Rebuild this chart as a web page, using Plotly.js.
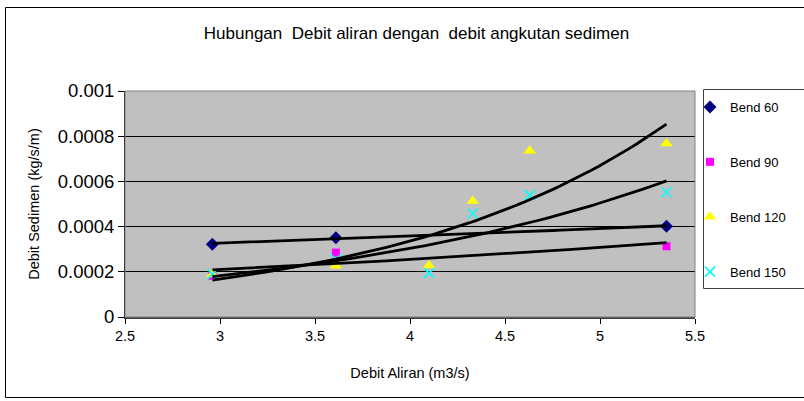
<!DOCTYPE html>
<html>
<head>
<meta charset="utf-8">
<script src="https://cdn.plot.ly/plotly-3.0.1.min.js"></script>
<style>
  html, body { margin: 0; padding: 0; background: #fff; }
  #chart { width: 804px; height: 401px; }
</style>
</head>
<body>
<div id="chart"></div>
<script>
// Measured sediment discharge (kg/s/m) against flow discharge (m3/s) for each bend
const seriesNames = ['Bend 60', 'Bend 90', 'Bend 120', 'Bend 150'];

const bend60X = [2.96, 3.61, 5.35];
const bend60Y = [0.000322, 0.000351, 0.000402];

const bend90X = [2.96, 3.61, 5.35];
const bend90Y = [0.000182, 0.000285, 0.000313];

const bend120X = [2.96, 3.61, 4.10, 4.33, 4.63, 5.35];
const bend120Y = [0.000188, 0.000227, 0.000228, 0.000513, 0.000736, 0.000768];

const bend150X = [2.96, 3.61, 4.10, 4.33, 4.63, 5.35];
const bend150Y = [0.000190, 0.000255, 0.000194, 0.000458, 0.000539, 0.000552];

const xTickVals = [2.5, 3, 3.5, 4, 4.5, 5, 5.5];
const xTickText = ['2.5', '3', '3.5', '4', '4.5', '5', '5.5'];
const yTickVals = [0, 0.0002, 0.0004, 0.0006, 0.0008, 0.001];
const yTickText = ['0', '0.0002', '0.0004', '0.0006', '0.0008', '0.001'];

const chartTitle = 'Hubungan  Debit aliran dengan  debit angkutan sedimen';
const xTitle = 'Debit Aliran (m3/s)';
const yTitle = 'Debit Sedimen (kg/s/m)';

// Exponential trendline y = a * exp(b x), least squares on ln(y)
function fitExp(xs, ys) {
  const n = xs.length;
  const ly = ys.map(v => Math.log(v));
  const mx = xs.reduce((s, v) => s + v, 0) / n;
  const my = ly.reduce((s, v) => s + v, 0) / n;
  let sxy = 0, sxx = 0;
  for (let i = 0; i < n; i++) {
    sxy += (xs[i] - mx) * (ly[i] - my);
    sxx += (xs[i] - mx) * (xs[i] - mx);
  }
  const b = sxy / sxx;
  const a = Math.exp(my - b * mx);
  return { a, b };
}

function trendCurve(xs, ys, steps) {
  const f = fitExp(xs, ys);
  const x0 = Math.min(...xs), x1 = Math.max(...xs);
  const cx = [], cy = [];
  for (let i = 0; i <= steps; i++) {
    const x = x0 + (x1 - x0) * i / steps;
    cx.push(x);
    cy.push(f.a * Math.exp(f.b * x));
  }
  return { x: cx, y: cy };
}

const FONT = 'Liberation Sans, Arial, sans-serif';

const markerStyles = [
  { symbol: 'diamond', size: 10, color: '#000080' },
  { symbol: 'square', size: 8, color: '#FF00FF' },
  { symbol: 'triangle-up', size: 11, color: '#FFFF00' },
  { symbol: 'x-thin', size: 10, color: '#00FFFF', line: { color: '#00FFFF', width: 1.6 } }
];

const xs = [bend60X, bend90X, bend120X, bend150X];
const ys = [bend60Y, bend90Y, bend120Y, bend150Y];

const traces = [];
for (let i = 0; i < 4; i++) {
  traces.push({
    type: 'scatter', mode: 'markers', name: seriesNames[i],
    x: xs[i], y: ys[i], legendgroup: 'g' + i,
    marker: markerStyles[i], cliponaxis: false
  });
}
for (let i = 0; i < 4; i++) {
  const c = trendCurve(xs[i], ys[i], 60);
  traces.push({
    type: 'scatter', mode: 'lines', x: c.x, y: c.y, showlegend: false,
    hoverinfo: 'skip', line: { color: '#000000', width: 2.8 }
  });
}

// Layout geometry
const W = 804, H = 401;
const M = { l: 125, r: 109, t: 91, b: 84 };
const PW = W - M.l - M.r, PH = H - M.t - M.b;
const px = p => (p - M.l) / PW;
const py = p => (H - M.b - p) / PH;

const layout = {
  width: W, height: H,
  margin: M,
  paper_bgcolor: '#FFFFFF',
  plot_bgcolor: '#C0C0C0',
  font: { family: FONT, color: '#000000', size: 12 },
  showlegend: true,
  title: {
    text: chartTitle, font: { family: FONT, size: 17, color: '#000' },
    x: 0.518, xanchor: 'center', xref: 'container',
    y: 1 - 33 / H, yanchor: 'middle', yref: 'container'
  },
  xaxis: {
    range: [2.5, 5.5], tickvals: xTickVals, ticktext: xTickText,
    ticks: 'outside', ticklen: 5, tickcolor: '#000', tickwidth: 1,
    showgrid: false, zeroline: false,
    showline: true, linecolor: '#404040', linewidth: 2,
    tickfont: { family: FONT, size: 14.5 },
    title: { text: xTitle, font: { family: FONT, size: 14.5 }, standoff: 24 }
  },
  yaxis: {
    range: [0, 0.001], tickvals: yTickVals, ticktext: yTickText,
    ticks: 'outside', ticklen: 6, tickcolor: '#000', tickwidth: 1,
    showgrid: true, gridcolor: '#000000', gridwidth: 1,
    zeroline: false, showline: true, linecolor: '#000', linewidth: 1,
    tickfont: { family: FONT, size: 18.5 },
    title: { text: yTitle, font: { family: FONT, size: 14.5 }, standoff: 14 }
  },
  legend: {
    x: px(690), xanchor: 'left', y: py(92), yanchor: 'top',
    bgcolor: 'rgba(0,0,0,0)', borderwidth: 0,
    font: { family: FONT, size: 13, color: '#000' },
    traceorder: 'grouped', tracegroupgap: 35
  },
  shapes: [
    // chart frame
    { type: 'rect', xref: 'paper', yref: 'paper', layer: 'below',
      x0: px(5.5), x1: px(812), y0: py(397.5), y1: py(7.5),
      line: { color: '#000', width: 1 }, fillcolor: 'rgba(0,0,0,0)' },
    // legend box
    { type: 'rect', xref: 'paper', yref: 'paper', layer: 'below',
      x0: px(703.5), x1: px(812), y0: py(288.5), y1: py(89.5),
      line: { color: '#404040', width: 1 }, fillcolor: '#FFFFFF' },
    // plot area border
    { type: 'rect', xref: 'paper', yref: 'paper', layer: 'above',
      x0: 0, x1: 1, y0: 0, y1: 1,
      line: { color: '#808080', width: 1 }, fillcolor: 'rgba(0,0,0,0)' }
  ]
};

Plotly.newPlot('chart', traces, layout, { displayModeBar: false, staticPlot: true });
</script>
</body>
</html>
